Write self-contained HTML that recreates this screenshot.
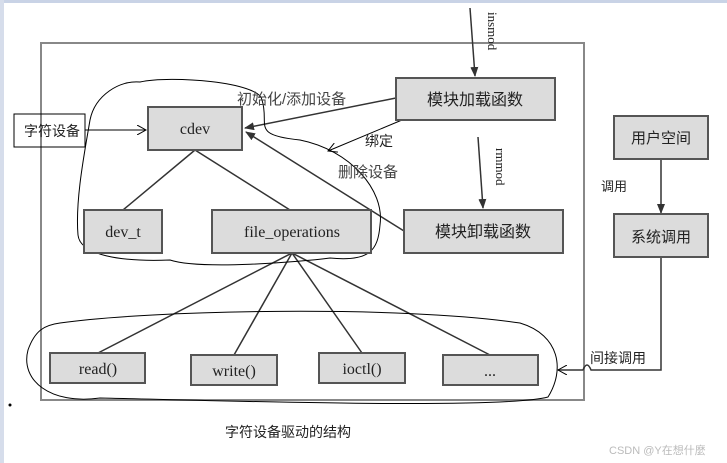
<!DOCTYPE html>
<html><head><meta charset="utf-8"><style>
body{margin:0;width:727px;height:463px;background:#fff;overflow:hidden;font-family:"Liberation Serif","Noto Serif CJK SC",serif;}
svg{position:absolute;left:0;top:0}
</style></head><body>
<svg width="727" height="463" viewBox="0 0 727 463">
<defs><marker id="a" markerWidth="10" markerHeight="8" refX="9" refY="4" orient="auto" markerUnits="userSpaceOnUse"><path d="M0,0 L10,4 L0,8 Z" fill="#333"/></marker>
<marker id="o" markerWidth="10" markerHeight="10" refX="9" refY="5" orient="auto" markerUnits="userSpaceOnUse"><path d="M0,0 L9,5 L0,10" fill="none" stroke="#000"/></marker></defs>
<rect x="0" y="0" width="727" height="3" fill="#c9d3e6"/>
<rect x="0" y="0" width="4" height="463" fill="#d6ddeb"/>
<rect x="41" y="43" width="543" height="357" fill="none" stroke="#888" stroke-width="2"/>
<g stroke="#333" stroke-width="1.5" fill="none">
<line x1="195" y1="150" x2="123" y2="210"/><line x1="195" y1="150" x2="290" y2="210"/>
<line x1="292" y1="253" x2="98" y2="353"/><line x1="292" y1="253" x2="234" y2="355"/>
<line x1="292" y1="253" x2="362" y2="353"/><line x1="292" y1="253" x2="490" y2="355"/>
<line x1="396" y1="98" x2="245" y2="128" marker-end="url(#a)"/>
<line x1="404" y1="231" x2="246" y2="132" marker-end="url(#a)"/>
<line x1="470" y1="8" x2="475" y2="76" marker-end="url(#a)"/>
<line x1="478" y1="137" x2="483" y2="208" marker-end="url(#a)"/>
<line x1="661" y1="159" x2="661" y2="213" marker-end="url(#a)"/>
<path d="M661,257 V370 H591 q-4,-10 -8,0 H558" marker-end="url(#o)"/>
<line x1="402" y1="120" x2="328" y2="151" stroke="#000" stroke-width="1" marker-end="url(#o)"/>
</g>
<g stroke="#000" stroke-width="1" fill="none">
<path d="M140,82 C170,75 260,82 262,100 C270,125 250,135 300,140 C350,150 385,190 380,225 C378,250 370,262 330,258 C300,262 200,270 170,260 C120,262 80,255 78,235 C75,200 85,150 90,120 C95,95 120,80 140,82 Z"/>
<path d="M60,323 C150,310 400,305 520,323 C560,335 565,370 548,397 C500,410 200,400 100,398 C50,405 20,380 28,350 C35,330 45,325 60,323 Z"/>
<rect x="14" y="114" width="71" height="33"/>
<path d="M85,130 H146" marker-end="url(#o)"/>
</g>
<g fill="#dcdcdc" stroke="#555" stroke-width="2">
<rect x="396" y="78" width="159" height="42"/><rect x="148" y="107" width="94" height="43"/>
<rect x="84" y="210" width="78" height="43"/><rect x="212" y="210" width="159" height="43"/>
<rect x="404" y="210" width="159" height="43"/><rect x="614" y="116" width="94" height="43"/>
<rect x="614" y="214" width="94" height="43"/><rect x="50" y="353" width="95" height="30"/>
<rect x="191" y="355" width="86" height="30"/><rect x="319" y="353" width="86" height="30"/>
<rect x="443" y="355" width="95" height="30"/>
</g>
<g font-size="16" text-anchor="middle" fill="#222">
<text x="195" y="134">cdev</text><text x="123" y="237">dev_t</text><text x="292" y="237">file_operations</text>
<text x="98" y="374">read()</text><text x="234" y="376">write()</text><text x="362" y="374">ioctl()</text><text x="490" y="376">...</text>
</g>
<g font-family="'Liberation Sans','Noto Sans CJK SC',sans-serif" fill="#222">
<text x="475" y="105" font-size="16" text-anchor="middle">模块加载函数</text>
<text x="483" y="237" font-size="16" text-anchor="middle">模块卸载函数</text>
<text x="661" y="143" font-size="15" text-anchor="middle">用户空间</text>
<text x="661" y="242" font-size="15" text-anchor="middle">系统调用</text>
<text x="24" y="136" font-size="14">字符设备</text>
<text x="237" y="104" font-size="15" fill="#444">初始化/添加设备</text>
<text x="365" y="146" font-size="14">绑定</text>
<text x="338" y="177" font-size="15" fill="#444">删除设备</text>
<text x="601" y="191" font-size="13">调用</text>
<text x="590" y="363" font-size="14">间接调用</text>
<text x="225" y="437" font-size="14">字符设备驱动的结构</text>
<text x="609" y="454" font-size="11" fill="#bbb">CSDN @Y在想什麼</text>
<text x="488" y="12" font-size="13" font-family="'Liberation Serif',serif" transform="rotate(90 488 12)">insmod</text>
<text x="496" y="148" font-size="13" font-family="'Liberation Serif',serif" transform="rotate(90 496 148)">rmmod</text>
</g>
<circle cx="10" cy="405" r="1.5" fill="#000"/>
</svg>
</body></html>
